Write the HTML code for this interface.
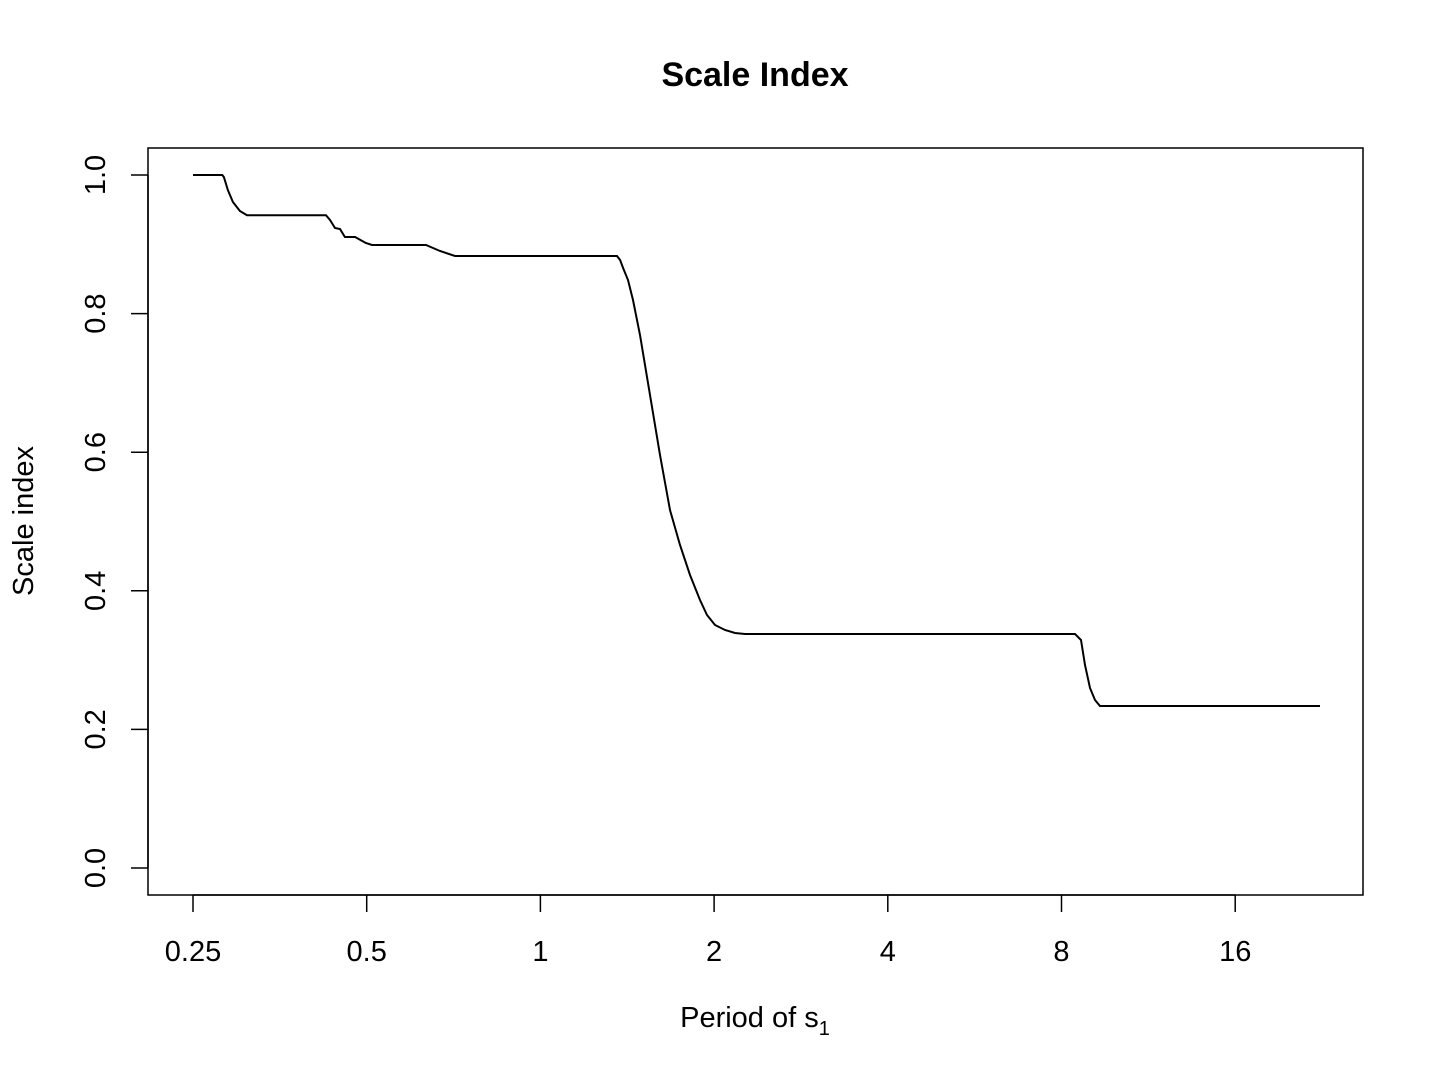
<!DOCTYPE html>
<html><head><meta charset="utf-8"><style>body{margin:0;background:#fff}svg{display:block}text{font-family:"Liberation Sans",sans-serif;fill:#000}</style></head>
<body>
<svg id="c" width="1440" height="1080">
<text x="755" y="86" font-size="34" font-weight="bold" text-anchor="middle">Scale Index</text>
<rect x="148" y="148" width="1215" height="747" fill="none" stroke="#000" stroke-width="1.5"/>
<g id="xa"></g>
<g id="ya"></g>
<text x="755" y="1027" font-size="29" text-anchor="middle">Period of s<tspan font-size="20" dy="8">1</tspan></text>
<text transform="translate(33,521) rotate(-90)" font-size="29" text-anchor="middle">Scale index</text>
<path id="ln" fill="none" stroke="#000" stroke-width="2"/>
</svg>
<script>
const periods=[0.25,0.281,0.2828,0.2874,0.2932,0.3015,0.3101,0.4250,0.4318,0.4405,0.4494,0.4584,0.4774,0.4983,0.5107,0.6336,0.6700,0.7113,1.3578,1.3742,1.3908,1.4187,1.4473,1.4883,1.5489,1.6119,1.6775,1.7456,1.8167,1.8906,1.9442,2.0072,2.0891,2.1741,2.2625,8.442,8.646,8.785,8.962,9.143,9.327,22.44];
const values=[1.0,1.0,0.997,0.978,0.961,0.948,0.942,0.942,0.9351,0.9235,0.9221,0.9105,0.9105,0.9019,0.8990,0.8990,0.8903,0.8831,0.8831,0.8773,0.8658,0.8485,0.8196,0.7691,0.6825,0.5960,0.5166,0.4661,0.4228,0.3867,0.3651,0.3506,0.3434,0.3391,0.3377,0.3377,0.3290,0.2929,0.2597,0.2424,0.2338,0.2338];
const xTicks=[0.25,0.5,1,2,4,8,16];
const xTickLabels=["0.25","0.5","1","2","4","8","16"];
const yTicks=[0,0.2,0.4,0.6,0.8,1.0];
const yTickLabels=["0.0","0.2","0.4","0.6","0.8","1.0"];
const X=p=>193+173.7*Math.log2(p/0.25);
const Y=v=>868-693*v;
const NS="http://www.w3.org/2000/svg";
function mk(t,a,parent){const e=document.createElementNS(NS,t);for(const k in a)e.setAttribute(k,a[k]);parent.appendChild(e);return e;}
const xa=document.getElementById('xa'),ya=document.getElementById('ya');
mk('line',{x1:X(xTicks[0]),x2:X(xTicks[xTicks.length-1]),y1:895,y2:895,stroke:'#000','stroke-width':1.5},xa);
xTicks.forEach((t,i)=>{const l=mk('line',{x1:X(t),x2:X(t),y1:895,y2:912,stroke:'#000','stroke-width':1.5},xa);


const tx=mk('text',{x:X(t),y:961,'font-size':29,'text-anchor':'middle'},xa);tx.textContent=xTickLabels[i];

});
mk('line',{x1:148,x2:148,y1:Y(0),y2:Y(1),stroke:'#000','stroke-width':1.5},ya);
yTicks.forEach((t,i)=>{const l=mk('line',{x1:131,x2:148,y1:Y(t),y2:Y(t),stroke:'#000','stroke-width':1.5},ya);


const tx=mk('text',{transform:`translate(105,${Y(t)}) rotate(-90)`,'font-size':29,'text-anchor':'middle'},ya);tx.textContent=yTickLabels[i];

});
document.getElementById('ln').setAttribute('d',periods.map((p,i)=>(i?'L':'M')+X(p).toFixed(1)+','+Y(values[i]).toFixed(1)).join(''));
</script>
</body></html>
